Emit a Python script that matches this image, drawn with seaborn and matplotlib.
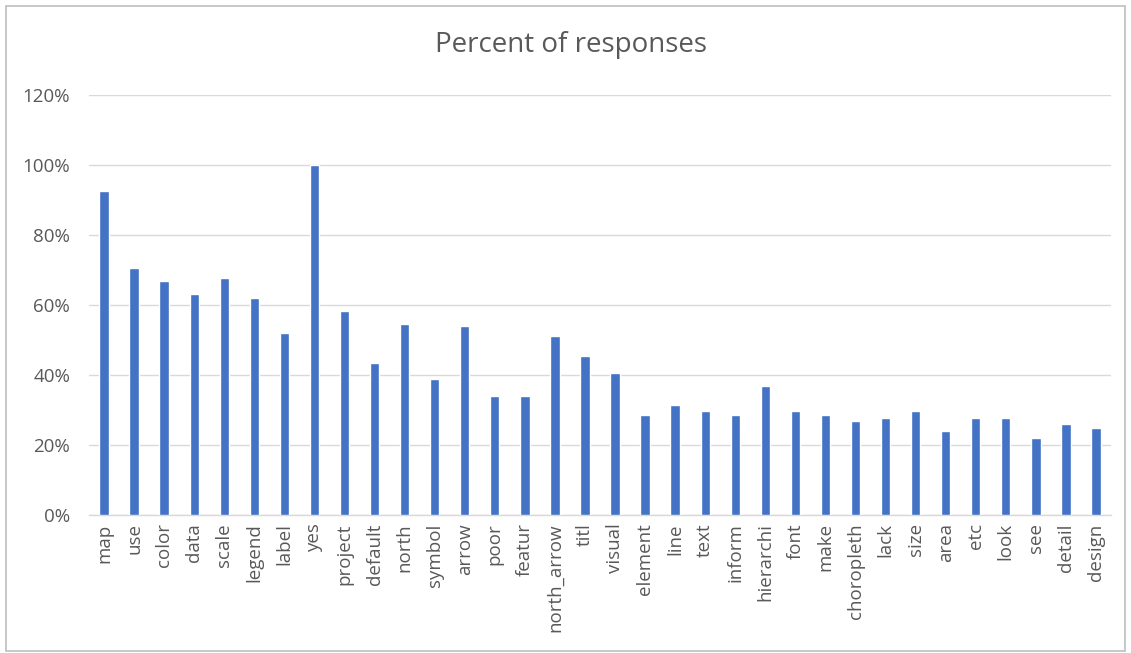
import matplotlib
matplotlib.use("Agg")
import matplotlib.pyplot as plt
from matplotlib.patches import Rectangle
from matplotlib.ticker import PercentFormatter
import seaborn as sns
import pandas as pd

# Share of responses mentioning each term
terms = [
    "map", "use", "color", "data", "scale", "legend", "label", "yes",
    "project", "default", "north", "symbol", "arrow", "poor", "featur",
    "north_arrow", "titl", "visual", "element", "line", "text", "inform",
    "hierarchi", "font", "make", "choropleth", "lack", "size", "area",
    "etc", "look", "see", "detail", "design",
]
percent = [
    92.4, 70.4, 66.7, 63.1, 67.5, 61.9, 51.8, 100.0,
    58.2, 43.4, 54.6, 38.9, 53.8, 34.0, 34.0,
    51.0, 45.3, 40.5, 28.4, 31.3, 29.6, 28.4,
    36.9, 29.6, 28.4, 26.8, 27.7, 29.6, 24.0,
    27.7, 27.7, 22.0, 26.0, 24.8,
]
y_ticks = [0, 20, 40, 60, 80, 100, 120]

df = pd.DataFrame({"term": terms, "percent": percent})

sns.set_theme(style="white")
plt.rcParams["font.family"] = ["Open Sans", "DejaVu Sans"]

W, H = 1131, 653
fig = plt.figure(figsize=(W / 100, H / 100), dpi=100)
ax = fig.add_axes([89 / W, 1 - 515 / H, (1111 - 89) / W, (515 - 94.5) / H])

sns.barplot(data=df, x="term", y="percent", color="#4472C4",
            width=0.31, saturation=1, ax=ax, zorder=3)

ax.set_ylim(0, 120)
ax.set_xlim(-0.5, len(terms) - 0.5)
ax.set_yticks(y_ticks)
ax.yaxis.set_major_formatter(PercentFormatter(decimals=0))
ax.grid(axis="y", color="#D9D9D9", linewidth=1.0, zorder=0)
ax.set_axisbelow(True)
for side in ["top", "right", "left"]:
    ax.spines[side].set_visible(False)
ax.spines["bottom"].set_color("#D9D9D9")
ax.spines["bottom"].set_linewidth(1.0)

ax.set_xlabel("")
ax.set_ylabel("")
ax.tick_params(axis="both", length=0, colors="#595959", labelsize=13.5)
ax.tick_params(axis="y", pad=13.5)
ax.tick_params(axis="x", pad=6)
for lbl in ax.get_xticklabels():
    lbl.set_rotation(90)
    lbl.set_va("top")
    lbl.set_ha("center")

fig.text(571 / W, 1 - 45 / H, "Percent of responses", ha="center", va="center",
         fontsize=20, color="#595959")

# chart-area frame
fig.patches.append(Rectangle((6 / W, 2 / H), 1119 / W, (647 - 2) / H,
                             transform=fig.transFigure, fill=False,
                             edgecolor="#BFBFBF", linewidth=1.2))

fig.savefig("out.png", dpi=100, facecolor="white")
